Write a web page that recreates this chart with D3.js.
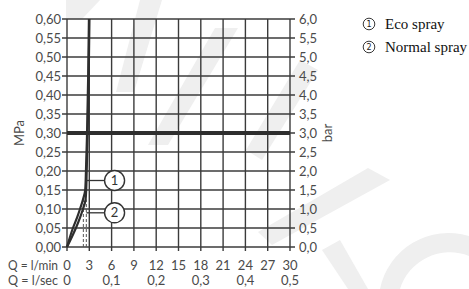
<!DOCTYPE html>
<html>
<head>
<meta charset="utf-8">
<script src="https://cdn.jsdelivr.net/npm/d3@7"></script>
<style>
  body { margin: 0; background: #fff; }
  svg { display: block; }
</style>
</head>
<body>
<figure id="chart" style="margin:0"></figure>
<script>
// flow in l/min, pressure in MPa
const ecoFlow     = [0, 0.8, 1.4, 1.75, 2.15, 2.45, 2.55, 2.7, 2.85, 2.95];
const ecoPress    = [0, 0.05, 0.08, 0.10, 0.125, 0.15, 0.20, 0.30, 0.45, 0.60];
const normalFlow  = [0, 1.2, 1.8, 2.15, 2.5, 2.58, 2.65, 2.78, 2.92, 3.02];
const normalPress = [0, 0.05, 0.08, 0.10, 0.125, 0.15, 0.20, 0.30, 0.45, 0.60];
const dashFlow    = [2.2, 2.6];
const dashPress   = [0.125, 0.125];

const lminTicks = [0, 3, 6, 9, 12, 15, 18, 21, 24, 27, 30];
const lsecTicks = [0, 0.1, 0.2, 0.3, 0.4, 0.5];
const mpaTicks  = d3.range(0, 0.6001, 0.05);
const minPressure = 0.30;

const labelNames = ["1", "2"];
const labelPress = [0.175, 0.09];
const legendText = ["Eco spray", "Normal spray"];

const width = 469, height = 289;
const fmt = (v, d) => v.toFixed(d).replace(".", ",");

const svg = d3.select("#chart").append("svg")
  .attr("width", width).attr("height", height);

// faint watermark behind everything
const wm = svg.append("g").attr("fill", "#efefef");
[
  [[66,0],[100,0],[82,19],[66,19]],
  [[140,0],[162,0],[134,92],[116,92]],
  [[215,28],[238,28],[168,145],[148,145]],
  [[300,60],[318,70],[262,160],[246,150]],
  [[368,168],[390,180],[272,245],[258,232]],
  [[322,250],[340,240],[368,289],[348,289]]
].forEach(p => wm.append("polygon").attr("points", p.join(" ")));
wm.append("path")
  .attr("d", "M380,289 A70,70 0 0 1 469,236 L469,256 A52,52 0 0 0 400,289 Z");

const x = d3.scaleLinear().domain([0, 30]).range([67, 290]);
const y = d3.scaleLinear().domain([0, 0.6]).range([247, 19]);
const xs = d3.scaleLinear().domain([0, 0.5]).range([67, 290]);

const gridColor = "#3b3b3b";
const grid = svg.append("g");
grid.selectAll(".v").data(lminTicks).enter().append("line")
  .attr("x1", d => x(d)).attr("x2", d => x(d))
  .attr("y1", y(0.6)).attr("y2", y(0) + 4)
  .attr("stroke", gridColor).attr("stroke-width", 1.4);
grid.selectAll(".h").data(mpaTicks).enter().append("line")
  .attr("x1", x(0) - 5).attr("x2", x(30) + 5)
  .attr("y1", d => y(d)).attr("y2", d => y(d))
  .attr("stroke", gridColor).attr("stroke-width", 1.4);

// minimum pressure line
svg.append("line")
  .attr("x1", x(0)).attr("x2", x(30))
  .attr("y1", y(minPressure)).attr("y2", y(minPressure))
  .attr("stroke", "#2e2e2e").attr("stroke-width", 4);

const font = "Lato, 'Open Sans', sans-serif";
const txtColor = "#4a4a4a";

// left axis labels
svg.append("g").selectAll("text").data(mpaTicks).enter().append("text")
  .attr("x", x(0) - 6).attr("y", d => y(d) + 4.5)
  .attr("text-anchor", "end")
  .attr("font-family", font).attr("font-size", 13).attr("fill", txtColor)
  .text(d => fmt(d, 2));
// right axis labels (bar)
svg.append("g").selectAll("text").data(mpaTicks).enter().append("text")
  .attr("x", x(30) + 9).attr("y", d => y(d) + 4.5)
  .attr("font-family", font).attr("font-size", 13).attr("fill", txtColor)
  .text(d => fmt(d * 10, 1));

svg.append("text")
  .attr("transform", "translate(24," + y(0.3) + ") rotate(-90)")
  .attr("text-anchor", "middle")
  .attr("font-family", font).attr("font-size", 13).attr("fill", txtColor)
  .text("MPa");
svg.append("text")
  .attr("transform", "translate(332," + y(0.3) + ") rotate(-90)")
  .attr("text-anchor", "middle")
  .attr("font-family", font).attr("font-size", 13).attr("fill", txtColor)
  .text("bar");

// bottom labels
const row1 = 270, row2 = 285;
svg.append("text").attr("x", 8).attr("y", row1)
  .attr("font-family", font).attr("font-size", 12.5).attr("fill", txtColor)
  .attr("textLength", 50).attr("lengthAdjust", "spacingAndGlyphs")
  .text("Q = l/min");
svg.append("text").attr("x", 8).attr("y", row2)
  .attr("font-family", font).attr("font-size", 12.5).attr("fill", txtColor)
  .attr("textLength", 50).attr("lengthAdjust", "spacingAndGlyphs")
  .text("Q = l/sec");
svg.append("g").selectAll("text").data(lminTicks).enter().append("text")
  .attr("x", d => x(d)).attr("y", row1).attr("text-anchor", "middle")
  .attr("font-family", font).attr("font-size", 13).attr("fill", txtColor)
  .text(d => d);
svg.append("g").selectAll("text").data(lsecTicks).enter().append("text")
  .attr("x", d => xs(d)).attr("y", row2).attr("text-anchor", "middle")
  .attr("font-family", font).attr("font-size", 13).attr("fill", txtColor)
  .text(d => d === 0 ? "0" : fmt(d, 1));

// dashed drop lines
svg.append("g").selectAll("line").data(dashFlow).enter().append("line")
  .attr("x1", d => x(d)).attr("x2", d => x(d))
  .attr("y1", y(0)).attr("y2", (d, i) => y(dashPress[i]))
  .attr("stroke", "#555").attr("stroke-width", 1)
  .attr("stroke-dasharray", "3,2");

// curves
const line = d3.line().curve(d3.curveMonotoneY)
  .x(d => x(d[0])).y(d => y(d[1]));
[[ecoFlow, ecoPress], [normalFlow, normalPress]].forEach(([f, p]) => {
  svg.append("path")
    .datum(f.map((v, i) => [v, p[i]]))
    .attr("d", line)
    .attr("fill", "none").attr("stroke", "#2e2e2e").attr("stroke-width", 2.2);
});

// numbered callouts
const callouts = svg.append("g");
labelPress.forEach((p, i) => {
  callouts.append("line")
    .attr("x1", x(2.6)).attr("x2", x(6.4) - 10)
    .attr("y1", y(p)).attr("y2", y(p))
    .attr("stroke", "#333").attr("stroke-width", 1.3);
  callouts.append("circle")
    .attr("cx", x(6.4)).attr("cy", y(p)).attr("r", 10)
    .attr("fill", "#fff").attr("stroke", "#333").attr("stroke-width", 1.4);
  callouts.append("text")
    .attr("x", x(6.4)).attr("y", y(p) + 4.5).attr("text-anchor", "middle")
    .attr("font-family", font).attr("font-size", 13).attr("fill", "#333")
    .text(labelNames[i]);
});

// legend
const legend = svg.append("g");
legendText.forEach((t, i) => {
  const cy = 24 + i * 23;
  legend.append("circle").attr("cx", 369).attr("cy", cy).attr("r", 5.8)
    .attr("fill", "none").attr("stroke", "#222").attr("stroke-width", 0.9);
  legend.append("text").attr("x", 369).attr("y", cy + 3)
    .attr("text-anchor", "middle")
    .attr("font-family", "'DejaVu Sans', sans-serif").attr("font-size", 8)
    .attr("fill", "#222").text(labelNames[i]);
  legend.append("text").attr("x", 385).attr("y", cy + 5)
    .attr("font-family", "'Liberation Serif', 'Times New Roman', serif")
    .attr("font-size", 15).attr("fill", "#111").text(t);
});
</script>
</body>
</html>
